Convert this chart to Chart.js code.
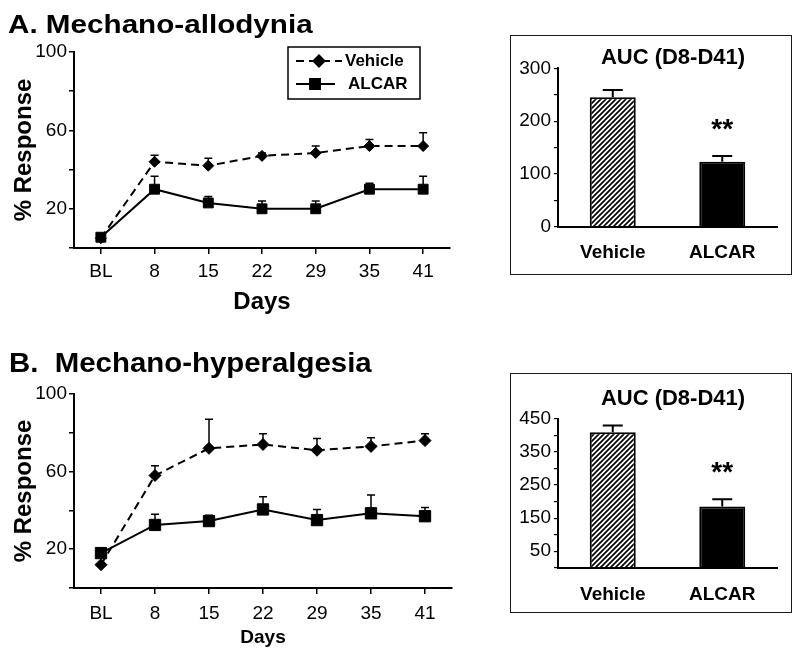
<!DOCTYPE html>
<html>
<head>
<meta charset="utf-8">
<script src="https://cdnjs.cloudflare.com/ajax/libs/Chart.js/4.4.1/chart.umd.min.js"></script>
<style>
  html,body{margin:0;padding:0;background:#fff;}
  #page{position:relative;width:800px;height:656px;overflow:hidden;font-family:"Liberation Sans",Arial,sans-serif;color:#000;}
  canvas{position:absolute;}
  .ttl{position:absolute;font-weight:bold;line-height:1;white-space:nowrap;transform-origin:0 0;}
  .box{position:absolute;border:1.5px solid #1a1a1a;box-sizing:border-box;}
  .auc{position:absolute;left:532px;width:282px;text-align:center;font-weight:bold;font-size:22px;line-height:1;white-space:nowrap;}
</style>
</head>
<body>
<div id="page">
  <canvas id="lineA" width="470" height="320" style="left:0;top:0"></canvas>
  <canvas id="lineB" width="470" height="326" style="left:0;top:330px"></canvas>
  <canvas id="barA" width="282" height="240" style="left:510px;top:35px"></canvas>
  <canvas id="barB" width="282" height="240" style="left:510px;top:373px"></canvas>
  <div class="box" style="left:510px;top:35px;width:282px;height:240px"></div>
  <div class="box" style="left:510px;top:373px;width:282px;height:240px"></div>
  <div class="ttl" style="left:8px;top:11px;font-size:26px;transform:scaleX(1.14)">A. Mechano-allodynia</div>
  <div class="ttl" style="left:9px;top:349px;font-size:28px;transform:scaleX(1.05)">B.&nbsp; Mechano-hyperalgesia</div>
  <div class="auc" style="top:46px">AUC (D8-D41)</div>
  <div class="auc" style="top:387px">AUC (D8-D41)</div>
</div>
<script>
// ---- data (mean % response, upper SEM) ----
const DAYS = ['BL','8','15','22','29','35','41'];
const Y_LINE_LABELS = [20, 60, 100];

const A_VEHICLE     = [5, 44, 42, 47, 48.5, 52, 52];
const A_VEHICLE_ERR = [0, 3.3, 3.8, 1.5, 3.5, 3.4, 6.8];
const A_ALCAR       = [5.5, 30, 23, 20, 20, 30, 30];
const A_ALCAR_ERR   = [0, 6.6, 3.3, 4, 4, 3, 6.6];

const B_VEHICLE     = [12, 58, 72, 74, 71, 73, 76];
const B_VEHICLE_ERR = [0, 5, 15, 5.5, 6, 4.5, 3.5];
const B_ALCAR       = [18, 32.5, 34.5, 40.5, 35, 38.5, 37];
const B_ALCAR_ERR   = [0, 5.5, 3, 6.5, 5.5, 9.5, 4.5];

// area under curve D8-D41
const GROUPS = ['Vehicle', 'ALCAR'];
const A_AUC = [245, 123], A_AUC_ERR = [14, 11], A_AUC_TICKS = [0, 100, 200, 300];
const B_AUC = [410, 185], B_AUC_ERR = [20, 22], B_AUC_TICKS = [50, 150, 250, 350, 450];
const SIG = ['', '**'];

Chart.defaults.font.family = '"Liberation Sans", Arial, sans-serif';
Chart.defaults.color = '#000';

// --- plugins ---------------------------------------------------------------
// upper-only SEM whiskers, from each point/bar top up to mean+err
const errorBars = {
  id:'errorBars',
  afterDatasetsDraw(chart, args, o){
    const {ctx} = chart, y = chart.scales.y;
    chart.data.datasets.forEach((ds, di) => {
      if(!ds.err) return;
      const meta = chart.getDatasetMeta(di);
      ctx.save(); ctx.strokeStyle = '#000'; ctx.lineWidth = o.width; ctx.setLineDash([]);
      meta.data.forEach((el, i) => {
        const e = ds.err[i]; if(!e) return;
        const top = y.getPixelForValue(ds.data[i] + e);
        ctx.beginPath();
        ctx.moveTo(el.x, el.y); ctx.lineTo(el.x, top);
        ctx.moveTo(el.x - o.cap, top); ctx.lineTo(el.x + o.cap, top);
        ctx.stroke();
      });
      ctx.restore();
    });
  }
};

// significance marks above the whiskers
const sigStars = {
  id:'sigStars',
  afterDatasetsDraw(chart, args, o){
    if(!o.display) return;
    const {ctx} = chart, y = chart.scales.y, ds = chart.data.datasets[0], meta = chart.getDatasetMeta(0);
    ctx.save(); ctx.fillStyle = '#000'; ctx.font = 'bold 28px "Liberation Sans", Arial, sans-serif';
    ctx.textAlign = 'center'; ctx.textBaseline = 'alphabetic';
    SIG.forEach((s, i) => {
      if(!s) return;
      const top = y.getPixelForValue(ds.data[i] + ds.err[i]);
      ctx.fillText(s, meta.data[i].x, top - o.gap);
    });
    ctx.restore();
  }
};

// boxed legend with line sample + marker, like the original figure
const boxLegend = {
  id:'boxLegend',
  afterDraw(chart, args, o){
    if(!o.display) return;
    const {ctx} = chart;
    ctx.save();
    ctx.strokeStyle = '#000'; ctx.fillStyle = '#000'; ctx.lineWidth = 1.5;
    ctx.strokeRect(o.x, o.y, o.w, o.h);
    ctx.font = 'bold 17px "Liberation Sans", Arial, sans-serif'; ctx.textBaseline = 'middle';
    chart.data.datasets.forEach((ds, i) => {
      const r = o.rows[i];
      ctx.beginPath(); ctx.setLineDash(ds.borderDash || []); ctx.lineWidth = ds.borderWidth;
      ctx.moveTo(r.x0, r.y); ctx.lineTo(r.x1, r.y); ctx.stroke();
      ctx.setLineDash([]);
      Chart.helpers.drawPoint(ctx, {pointStyle:ds.pointStyle, radius:ds.pointRadius, borderWidth:1, rotation:0}, r.mx, r.y);
      ctx.fillText(ds.label, r.tx, r.y);
    });
    ctx.restore();
  }
};

// --- line charts ------------------------------------------------------------
function lineChart(id, veh, vehErr, alc, alcErr, o){
  return new Chart(document.getElementById(id), {
    type:'line',
    data:{labels:DAYS, datasets:[
      {label:'Vehicle', data:veh, err:vehErr, borderColor:'#000', backgroundColor:'#000', borderWidth:2,
       borderDash:[8,5], pointStyle:'rectRot', pointRadius:o.dia, pointBackgroundColor:'#000',
       pointBorderColor:'#000', pointBorderWidth:1, tension:0, order:1},
      {label:'ALCAR', data:alc, err:alcErr, borderColor:'#000', backgroundColor:'#000', borderWidth:2,
       borderDash:[], pointStyle:'rect', pointRadius:o.sq, pointBackgroundColor:'#000',
       pointBorderColor:'#000', pointBorderWidth:1, tension:0, order:0},
    ]},
    options:{
      responsive:false, animation:false, events:[],
      layout:{padding:{top:o.padTop, right:o.padRight, bottom:0, left:0}},
      plugins:{
        legend:{display:false}, tooltip:{enabled:false},
        errorBars:{cap:4, width:1.5},
        boxLegend:o.legend || {display:false},
      },
      scales:{
        x:{
          offset:true,
          grid:{display:true, drawOnChartArea:false, offset:false, tickLength:6, color:'#000', lineWidth:1.5},
          border:{color:'#000', width:2},
          ticks:{color:'#000', font:{size:19}, padding:o.xPad, maxRotation:0, autoSkip:false},
          title:{display:true, text:'Days', color:'#000', font:{size:o.daysSize, weight:'bold'}, padding:{top:0, bottom:o.daysPad}},
          afterFit:s => { s.height = o.xH; },
        },
        y:{
          min:0, max:100,
          grid:{drawOnChartArea:false, tickLength:5, color:'#000', lineWidth:1.5},
          border:{color:'#000', width:2},
          ticks:{stepSize:20, color:'#000', font:{size:19}, padding:2, autoSkip:false,
                 callback:v => Y_LINE_LABELS.includes(v) ? v : ''},
          title:{display:true, text:'% Response', color:'#000', font:{size:24, weight:'bold'}, padding:{top:9.6, bottom:0}},
          afterFit:s => { s.width = 74; },
        },
      },
    },
    plugins:[errorBars, boxLegend],
  });
}

// --- AUC bar charts ---------------------------------------------------------
function hatchPattern(){
  const s = 5, c = document.createElement('canvas'); c.width = s; c.height = s;
  const g = c.getContext('2d');
  g.fillStyle = '#fff'; g.fillRect(0, 0, s, s);
  g.strokeStyle = '#000'; g.lineWidth = 1.7;
  g.beginPath();
  g.moveTo(-1, s + 1); g.lineTo(s + 1, -1);
  g.moveTo(-1, 1); g.lineTo(1, -1);
  g.moveTo(s - 1, s + 1); g.lineTo(s + 1, s - 1);
  g.stroke();
  return g.createPattern(c, 'repeat');
}

function aucChart(id, vals, errs, tickLabels, o){
  return new Chart(document.getElementById(id), {
    type:'bar',
    data:{labels:GROUPS, datasets:[{
      data:vals, err:errs, backgroundColor:[hatchPattern(), '#000'], borderColor:'#000', borderWidth:2,
      barPercentage:0.42, categoryPercentage:1,
    }]},
    options:{
      responsive:false, animation:false, events:[],
      layout:{padding:{top:o.padTop, right:15, bottom:0, left:0}},
      plugins:{legend:{display:false}, tooltip:{enabled:false},
               errorBars:{cap:10, width:2}, sigStars:{display:true, gap:18}},
      scales:{
        x:{
          grid:{display:false, drawTicks:false},
          border:{display:true, color:'#000', width:2},
          ticks:{color:'#000', font:{size:19, weight:'bold'}, padding:o.xPad, maxRotation:0},
          afterFit:s => { s.height = o.xH; },
        },
        y:{
          min:0, max:o.max,
          grid:{drawOnChartArea:false, tickLength:4, color:'#000', lineWidth:1.2},
          border:{color:'#000', width:2},
          ticks:{stepSize:50, color:'#000', font:{size:19}, padding:3, autoSkip:false,
                 callback:v => tickLabels.includes(v) ? v : ''},
          afterFit:s => { s.width = 48; },
        },
      },
    },
    plugins:[errorBars, sigStars],
  });
}

lineChart('lineA', A_VEHICLE, A_VEHICLE_ERR, A_ALCAR, A_ALCAR_ERR, {
  padTop:52, padRight:20, xH:72, xPad:6, daysSize:24, daysPad:3, dia:5.5, sq:7,
  legend:{display:true, x:288, y:47, w:132, h:52, rows:[
    {y:61, x0:296, x1:342, mx:319, tx:345},
    {y:84, x0:296, x1:335, mx:315, tx:348},
  ]},
});
lineChart('lineB', B_VEHICLE, B_VEHICLE_ERR, B_ALCAR, B_ALCAR_ERR, {
  padTop:64, padRight:18, xH:68, xPad:8, daysSize:19, daysPad:6.6, dia:6, sq:8,
});
aucChart('barA', A_AUC, A_AUC_ERR, A_AUC_TICKS, {padTop:33.3, xH:48.3, xPad:14.5, max:300});
aucChart('barB', B_AUC, B_AUC_ERR, B_AUC_TICKS, {padTop:46, xH:45.3, xPad:15.5, max:450});
</script>
</body>
</html>
